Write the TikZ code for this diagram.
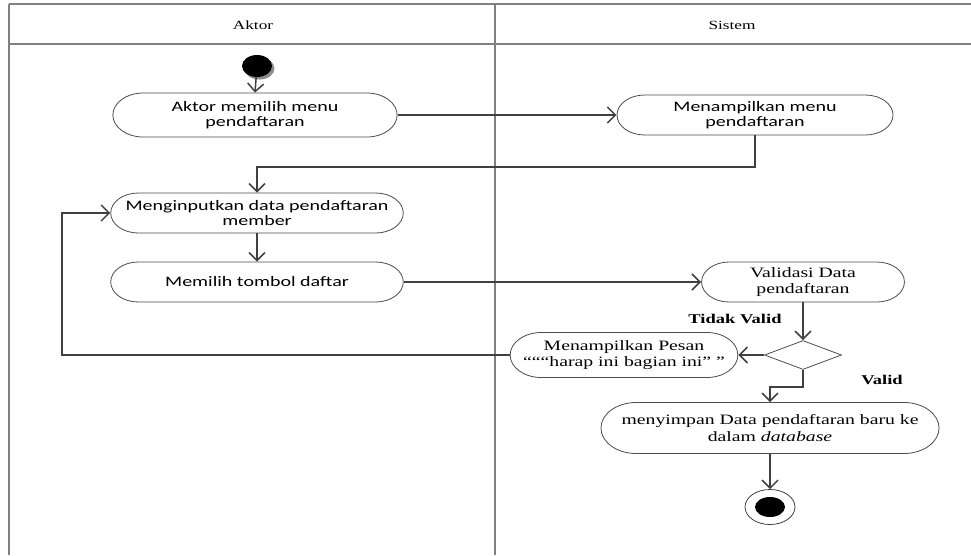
\documentclass[tikz,border=0pt]{standalone}
\usepackage{fontspec}
\setmainfont{Liberation Serif}
\newfontfamily\calib{Carlito}
\usetikzlibrary{arrows.meta,shapes.misc,shapes.geometric,shadows}
\begin{document}
\begin{tikzpicture}[x=1pt,y=-1pt,
  lane/.style={draw=black!50, line width=1.2pt},
  conn/.style={draw=black!75, line width=1.5pt},
  arr/.style={conn, -{Straight Barb[length=8pt,width=16pt]}},
  act/.style={rounded rectangle, draw=black!70, line width=0.8pt, fill=white,
    xscale=1.38, transform shape, align=center, inner sep=0pt},
  sansact/.style={act, font=\calib\fontsize{14.5}{15.5}\selectfont},
  serifact/.style={act, font=\fontsize{14.3}{16.5}\selectfont},
  lbl/.style={xscale=1.38, transform shape, inner sep=0pt},
  dec/.style={diamond, draw=black!70, line width=0.8pt, inner sep=0pt,
    minimum width=77, minimum height=29}
]
\useasboundingbox (0,0) rectangle (971,555);
% swimlanes
\draw[lane] (9,4) -- (971,4);
\draw[lane] (9,44) -- (971,44);
\draw[lane] (9,4) -- (9,555);
\draw[lane] (495,4) -- (495,555);
\node[lbl, font=\fontsize{12.5}{14}\selectfont] (hA) at (253,25) {Aktor};
\node[lbl, font=\fontsize{12.5}{14}\selectfont] (hS) at (732,25) {Sistem};

% start
\node[ellipse, fill=black, minimum width=30, minimum height=22, inner sep=0pt,
  drop shadow={shadow xshift=2.5pt, shadow yshift=-2.5pt, fill=black!45, opacity=1}] (start) at (257,66) {};

% activities
\node[sansact, minimum width=206, minimum height=44] (N1) at (255,115) {Aktor memilih menu\\pendaftaran};
\node[sansact, minimum width=200, minimum height=40] (N2) at (755,115) {Menampilkan menu\\pendaftaran};
\node[sansact, minimum width=212, minimum height=40] (N3) at (257,213) {Menginputkan data pendaftaran\\member};
\node[sansact, minimum width=212, minimum height=40] (N4) at (257,282) {Memilih tombol daftar};
\node[serifact, minimum width=147, minimum height=40] (N5) at (803,282) {Validasi Data\\pendaftaran};
\node[dec] (D) at (803,355) {};
\node[serifact, minimum width=165, minimum height=45] (N6) at (624,355) {Menampilkan Pesan\\“““harap ini bagian ini” ”};
\node[serifact, minimum width=245, minimum height=51] (N7) at (770,428) {menyimpan Data pendaftaran baru ke\\dalam \textit{database}};

% end
\node[ellipse, draw=black!75, line width=0.8pt, minimum width=50, minimum height=35, inner sep=0pt] (fin) at (770,507) {};
\node[ellipse, fill=black, minimum width=30, minimum height=20, inner sep=0pt] (finin) at (fin.center) {};

% labels
\node[lbl, font=\bfseries\fontsize{13.4}{15}\selectfont] (tv) at (735,319) {Tidak Valid};
\node[lbl, font=\bfseries\fontsize{13.4}{15}\selectfont] (v) at (882,380) {Valid};

% helper coordinates
\coordinate (c1) at (257,167);
\coordinate (c2) at (62,213);
\coordinate (c3) at (770,387);

% connectors
\draw[arr] (start) -- (N1.north);
\draw[arr] (N1.east) -- (N2.west);
\draw[arr] (N2.south) |- (c1) -- (N3.north);
\draw[arr] (N3.south) -- (N4.north);
\draw[arr] (N4.east) -- (N5.west);
\draw[arr] (N5.south) -- (D.north);
\draw[arr] (D.west) -- (N6.east);
\draw[arr] (N6.west) -| (c2) -- (N3.west);
\draw[arr] (D.south) |- (c3) -- (N7.north);
\draw[arr] (N7.south) -- (fin.north);
\end{tikzpicture}
\end{document}
